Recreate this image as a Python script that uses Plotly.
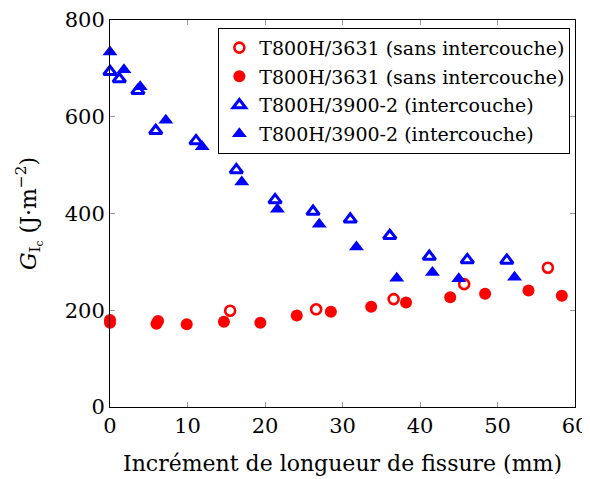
import plotly.graph_objects as go

# T800H/3631 (sans intercouche) - open markers
ref_open_x = [15.5, 26.6, 36.6, 45.7, 56.5]
ref_open_y = [199, 202, 223, 254, 288]
# T800H/3631 (sans intercouche) - filled markers
ref_fill_x = [0.0, 0.0, 6.2, 6.0, 9.9, 14.7, 19.4, 24.1, 28.5, 33.7, 38.2, 43.9, 48.4, 54.0, 58.3]
ref_fill_y = [180, 174, 178, 172, 171, 176, 174, 189, 197, 207, 216, 227, 234, 241, 230]
# T800H/3900-2 (intercouche) - open markers
int_open_x = [0.0, 1.2, 3.6, 5.9, 11.1, 16.3, 21.3, 26.2, 31.0, 36.1, 41.2, 46.1, 51.2]
int_open_y = [693, 678, 654, 571, 550, 490, 428, 404, 388, 354, 311, 304, 303]
# T800H/3900-2 (intercouche) - filled markers
int_fill_x = [0.0, 1.8, 3.9, 7.2, 11.9, 17.0, 21.6, 27.0, 31.8, 37.0, 41.6, 45.0, 52.2]
int_fill_y = [734, 697, 662, 593, 538, 465, 409, 378, 331, 266, 278, 265, 268]

FONT = "DejaVu Serif"
RED = "#ff0000"
BLUE = "#0000ff"

fig = go.Figure()

series = [
    (ref_open_x, ref_open_y, "T800H/3631 (sans intercouche)",
     dict(symbol="circle-open", color=RED, size=10, line=dict(width=2.6, color=RED))),
    (ref_fill_x, ref_fill_y, "T800H/3631 (sans intercouche)",
     dict(symbol="circle", color=RED, size=12, line=dict(width=0))),
    (int_open_x, int_open_y, "T800H/3900-2 (intercouche)",
     dict(symbol="triangle-up-open", color=BLUE, size=11, line=dict(width=3, color=BLUE))),
    (int_fill_x, int_fill_y, "T800H/3900-2 (intercouche)",
     dict(symbol="triangle-up", color=BLUE, size=13, line=dict(width=0))),
]

for i, (xs, ys, name, marker) in enumerate(series):
    fig.add_trace(go.Scatter(x=xs, y=ys, mode="markers", name=name,
                             legendgroup=f"g{i}", marker=marker, cliponaxis=False))

axis_common = dict(
    showgrid=False, zeroline=False, showline=True, linecolor="black", linewidth=1,
    mirror="ticks", ticks="inside", ticklen=5, tickcolor="#9a9a9a", tickwidth=1,
    tickfont=dict(family=FONT, size=21, color="black"), automargin=False,
)

# the page body adds an 8px offset, so the figure is sized 8px smaller
fig.update_layout(
    width=582, height=471,
    margin=dict(l=102, r=15, t=12, b=72),
    paper_bgcolor="white", plot_bgcolor="white",
    font=dict(family=FONT, color="black"),
    xaxis=dict(**axis_common, range=[0, 60], dtick=10,
               title=dict(text="Incrément de longueur de fissure (mm)",
                          font=dict(family=FONT, size=22), standoff=18)),
    yaxis=dict(**axis_common, range=[0, 800], dtick=200,
               title=dict(text="<i>G</i><sub>I<sub>c</sub></sub> (J·m<sup>−2</sup>)",
                          font=dict(family=FONT, size=22), standoff=22)),
    legend=dict(x=0.99, y=0.98, xanchor="right", yanchor="top",
                bgcolor="white", bordercolor="black", borderwidth=1,
                font=dict(family=FONT, size=19), itemwidth=30,
                tracegroupgap=1),
    showlegend=True,
)

fig.write_html("out.html")
